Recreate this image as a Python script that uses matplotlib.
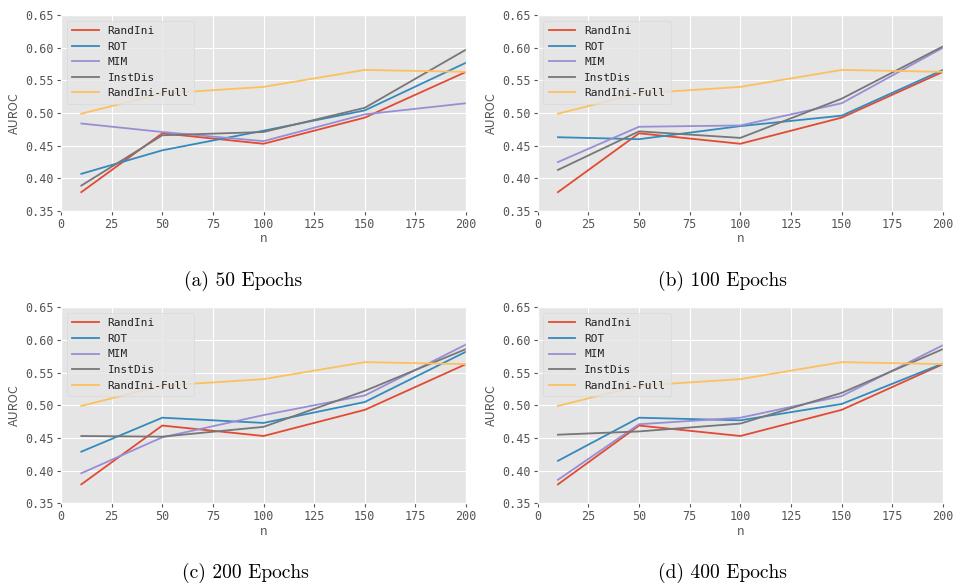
import matplotlib
matplotlib.use("Agg")
import matplotlib.pyplot as plt

plt.style.use("ggplot")

n = [10, 50, 100, 150, 200]
methods = ["RandIni", "ROT", "MIM", "InstDis", "RandIni-Full"]
captions = ["(a) 50 Epochs", "(b) 100 Epochs", "(c) 200 Epochs", "(d) 400 Epochs"]

# values, one dict per panel
randini = [0.379, 0.469, 0.453, 0.493, 0.563]
randini_full = [0.499, 0.530, 0.540, 0.566, 0.563]

ep50 = {
    "ROT": [0.407, 0.443, 0.473, 0.504, 0.577],
    "MIM": [0.484, 0.471, 0.457, 0.498, 0.515],
    "InstDis": [0.389, 0.466, 0.471, 0.508, 0.597],
}
ep100 = {
    "ROT": [0.463, 0.460, 0.480, 0.496, 0.566],
    "MIM": [0.425, 0.479, 0.481, 0.515, 0.600],
    "InstDis": [0.413, 0.472, 0.462, 0.522, 0.602],
}
ep200 = {
    "ROT": [0.429, 0.481, 0.473, 0.505, 0.582],
    "MIM": [0.396, 0.451, 0.485, 0.515, 0.593],
    "InstDis": [0.453, 0.452, 0.467, 0.522, 0.586],
}
ep400 = {
    "ROT": [0.415, 0.481, 0.477, 0.502, 0.564],
    "MIM": [0.386, 0.471, 0.481, 0.514, 0.592],
    "InstDis": [0.455, 0.460, 0.472, 0.519, 0.586],
}
panels = [ep50, ep100, ep200, ep400]

colors = ["#E24A33", "#348ABD", "#988ED5", "#777777", "#FBC15E"]

fig = plt.figure(figsize=(9.54, 5.88), dpi=100)
fig.patch.set_facecolor("white")

# axes boxes in figure fraction: left, bottom, width, height
boxes = [
    [0.064, 0.641, 0.4245, 0.3335],
    [0.5636, 0.641, 0.4249, 0.3335],
    [0.064, 0.144, 0.4245, 0.3335],
    [0.5636, 0.144, 0.4249, 0.3335],
]
cap_pos = [(0.255, 0.523), (0.757, 0.523), (0.257, 0.025), (0.757, 0.025)]

for i, data in enumerate(panels):
    ax = fig.add_axes(boxes[i])
    series = [randini, data["ROT"], data["MIM"], data["InstDis"], randini_full]
    for name, vals, c in zip(methods, series, colors):
        ax.plot(n, vals, color=c, lw=1.3, label=name)
    ax.set_xlim(0, 200)
    ax.set_ylim(0.35, 0.65)
    ax.set_xticks([0, 25, 50, 75, 100, 125, 150, 175, 200])
    ax.set_yticks([0.35, 0.40, 0.45, 0.50, 0.55, 0.60, 0.65])
    ax.set_yticklabels(["%.2f" % v for v in ax.get_yticks()])
    for lab in ax.get_xticklabels() + ax.get_yticklabels():
        lab.set_fontfamily("DejaVu Sans Mono")
        lab.set_fontsize(8.5)
        lab.set_color("#555555")
    ax.tick_params(axis="both", length=3, pad=2)
    ax.set_xlabel("n", fontsize=9, color="#555555", labelpad=1, family="Noto Sans CJK SC")
    ax.set_ylabel("AUROC", fontsize=9, color="#555555", labelpad=3, family="Noto Sans CJK SC")
    leg = ax.legend(loc="upper left", prop={"family": "DejaVu Sans Mono", "size": 8},
                    handlelength=2.4, borderpad=0.5, labelspacing=0.5)
    leg.get_frame().set_facecolor("#E5E5E5")
    leg.get_frame().set_edgecolor("#D5D5D5")
    for t in leg.get_texts():
        t.set_color("#222222")
    fig.text(cap_pos[i][0], cap_pos[i][1], captions[i], ha="center", va="center",
             fontsize=14, family="cmr10")

fig.savefig("out.png", dpi=100)
